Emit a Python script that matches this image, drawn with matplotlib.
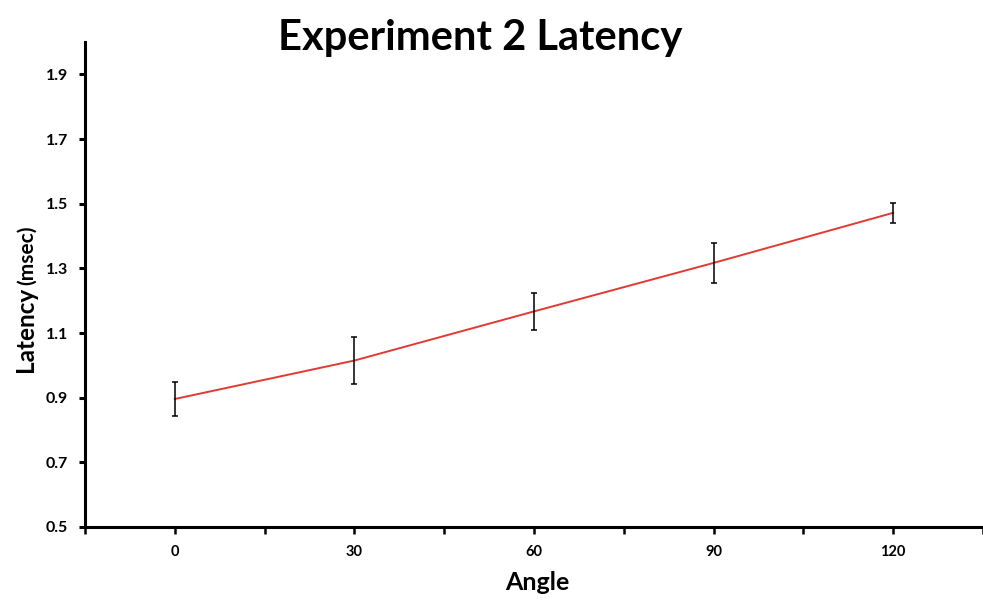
import matplotlib
matplotlib.use("Agg")
import matplotlib.pyplot as plt

# values
angles = [0, 30, 60, 90, 120]
latency = [0.896, 1.015, 1.167, 1.317, 1.472]
err = [0.052, 0.072, 0.057, 0.063, 0.030]
x_major = [0, 30, 60, 90, 120]
x_minor = [-15, 15, 45, 75, 105, 135]
y_ticks = [0.5, 0.7, 0.9, 1.1, 1.3, 1.5, 1.7, 1.9]

plt.rcParams['font.family'] = ['Lato', 'DejaVu Sans']

fig = plt.figure(figsize=(9.83, 6.02), dpi=100)
ax = fig.add_axes([0.0865, 0.1246, 0.9135, 0.8054])

ax.plot(angles, latency, color='#e23a33', lw=1.4, zorder=2)
ax.errorbar(angles, latency, yerr=err, fmt='none', ecolor='black',
            elinewidth=1.1, capsize=2.2, capthick=1.1, zorder=3)

ax.set_xlim(-15, 135)
ax.set_ylim(0.5, 2.0)
ax.set_xticks(x_major)
ax.set_xticklabels([str(a) for a in x_major], fontsize=10.5, fontweight='bold')
ax.set_xticks(x_minor, minor=True)
ax.set_yticks(y_ticks)
ax.set_yticklabels(['%.1f' % v for v in y_ticks], fontsize=11.5, fontweight='bold')

ax.spines['top'].set_visible(False)
ax.spines['right'].set_visible(False)
ax.spines['left'].set_linewidth(2.2)
ax.spines['bottom'].set_linewidth(2.2)
ax.tick_params(axis='y', which='major', direction='out', length=4, width=2.2, pad=8)
ax.tick_params(axis='x', which='major', direction='out', length=5, width=1.8, pad=8)
ax.tick_params(axis='x', which='minor', direction='out', length=5, width=1.8)

# axis labels
fig.text(0.547, 0.02, 'Angle', fontsize=18, fontweight='bold',
         ha='center', va='baseline')
fig.text(0.0336, 0.382, 'Latency', rotation=90, rotation_mode='anchor',
         fontsize=17.5, fontweight='bold', ha='left', va='baseline')
fig.text(0.0336, 0.527, '(msec)', rotation=90, rotation_mode='anchor',
         fontsize=15, fontweight='bold', ha='left', va='baseline')

fig.text(0.488, 0.917, 'Experiment 2 Latency', fontsize=30, fontweight='bold',
         ha='center', va='baseline')

fig.savefig('out.png', dpi=100)
